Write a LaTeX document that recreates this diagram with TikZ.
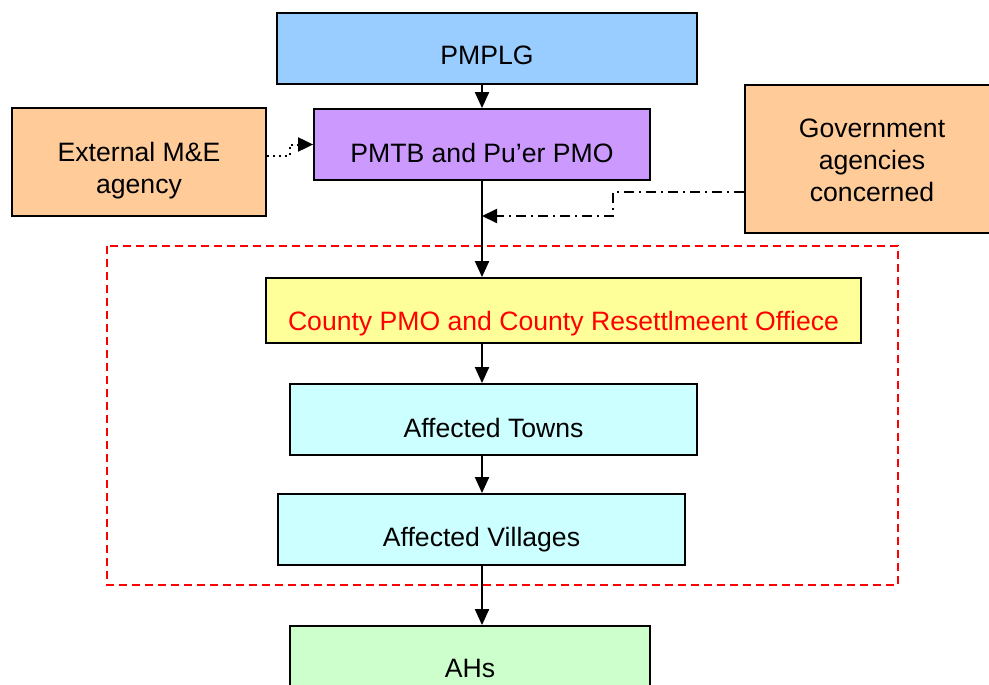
\documentclass[tikz,border=0pt]{standalone}
\usepackage{fontspec}
\setmainfont{Liberation Sans}
\usetikzlibrary{arrows.meta}
\definecolor{cblue}{HTML}{99CCFF}
\definecolor{cpurple}{HTML}{CC99FF}
\definecolor{corange}{HTML}{FFCC99}
\definecolor{cyellow}{HTML}{FFFF99}
\definecolor{ccyan}{HTML}{CCFFFF}
\definecolor{cgreen}{HTML}{CCFFCC}
\newcommand{\lowtext}[2]{\raisebox{-#1}[\height][\depth]{#2}}
\tikzset{
  box/.style={draw=black, line width=1.8pt, rectangle, inner sep=0pt, align=center,
    font=\fontsize{26.6}{32}\selectfont},
  arr/.style={line width=2pt, -{Triangle[length=16pt,width=14pt]}},
  dotarr/.style={line width=2pt, dash pattern=on 2pt off 4pt, -{Triangle[length=15pt,width=14pt]}},
  dasharr/.style={line width=2pt, dash pattern=on 10pt off 5pt on 2pt off 5pt, -{Triangle[length=15pt,width=14pt]}},
  region/.style={draw=red, line width=1.5pt, dash pattern=on 8pt off 5pt}
}
\begin{document}
\begin{tikzpicture}[x=1pt,y=-1pt]
\useasboundingbox (0,0) rectangle (989,685);
\clip (0,0) rectangle (989,685);
\fill[white] (0,0) rectangle (989,685);
% region
\draw[region] (107,246) rectangle (898,585);
% boxes
\node[box, fill=cblue, minimum width=420pt, minimum height=71pt] (pmplg) at (487,48.5) {\lowtext{7pt}{PMPLG}};
\node[box, fill=cpurple, minimum width=336pt, minimum height=71pt] (pmtb) at (482,144.5) {\lowtext{8pt}{PMTB and Pu’er PMO}};
\node[box, fill=corange, minimum width=254pt, minimum height=108pt] (ext) at (139,162) {\lowtext{9pt}{\begin{tabular}{@{}c@{}}External M\&E\\agency\end{tabular}}};
\node[box, fill=corange, minimum width=254pt, minimum height=148pt] (gov) at (872,159) {\lowtext{4pt}{\begin{tabular}{@{}c@{}}Government\\agencies\\concerned\end{tabular}}};
\node[box, fill=cyellow, minimum width=595pt, minimum height=65pt, text=red] (county) at (563.5,310.5) {\lowtext{13pt}{County PMO and County Resettlmeent Offiece}};
\node[box, fill=ccyan, minimum width=407pt, minimum height=71pt] (towns) at (493.5,419.5) {\lowtext{8pt}{Affected Towns}};
\node[box, fill=ccyan, minimum width=407pt, minimum height=71pt] (villages) at (481.5,529.5) {\lowtext{10pt}{Affected Villages}};
\node[box, fill=cgreen, minimum width=360pt, minimum height=71pt] (ahs) at (470,661.5) {\lowtext{7pt}{AHs}};
% spine coordinates
\coordinate (join) at (482,216);
% connectors
\draw[arr] (pmtb.north |- pmplg.south) -- (pmtb.north);
\draw[arr] (pmtb.south) -- (pmtb.south |- county.north);
\draw[arr] (pmtb.south |- county.south) -- (pmtb.south |- towns.north);
\draw[arr] (pmtb.south |- towns.south) -- (pmtb.south |- villages.north);
\draw[arr] (pmtb.south |- villages.south) -- (pmtb.south |- ahs.north);
\draw[dasharr] ([yshift=-33pt]gov.west) -| (613,216) -- (join);
\draw[dotarr] ([yshift=6pt]ext.east) -| (290,144.5) -- (pmtb.west);
\end{tikzpicture}
\end{document}
